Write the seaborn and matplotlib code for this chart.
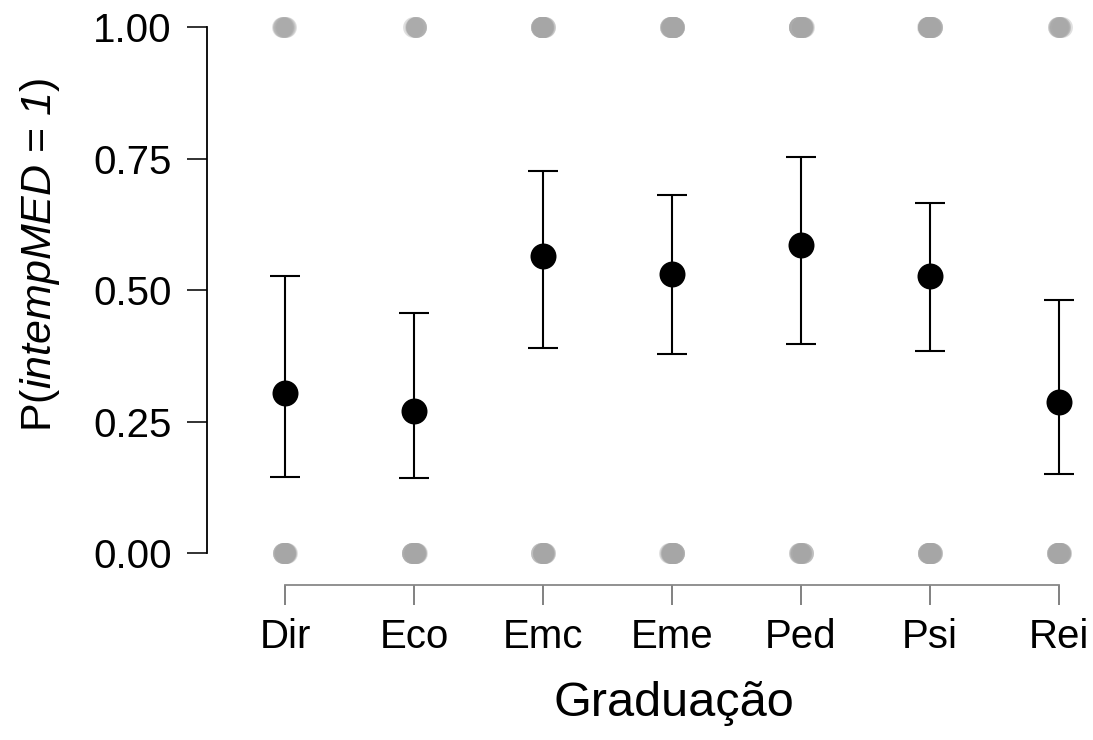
import numpy as np
import pandas as pd
import matplotlib
matplotlib.use("Agg")
import matplotlib.pyplot as plt
import seaborn as sns

# groups and estimated probabilities with 95% CI
cursos = ["Dir", "Eco", "Emc", "Eme", "Ped", "Psi", "Rei"]
prob = [0.304, 0.270, 0.565, 0.530, 0.586, 0.527, 0.287]
ci_low = [0.144, 0.143, 0.390, 0.378, 0.397, 0.384, 0.150]
ci_high = [0.527, 0.456, 0.726, 0.681, 0.753, 0.665, 0.481]

# raw outcomes (counts of 1 and 0 per group)
n_sim = [6, 6, 17, 19, 14, 20, 7]
n_nao = [14, 16, 13, 17, 10, 18, 17]

rows = []
for c, n1, n0 in zip(cursos, n_sim, n_nao):
    rows += [(c, 1)] * n1 + [(c, 0)] * n0
df = pd.DataFrame(rows, columns=["Graduacao", "intempMED"])

sns.set_style("white")
plt.rcParams["font.family"] = ["Liberation Sans", "DejaVu Sans"]
plt.rcParams["mathtext.fontset"] = "custom"
plt.rcParams["mathtext.sf"] = "Liberation Sans:italic"
plt.rcParams["mathtext.rm"] = "Liberation Sans"
plt.rcParams["text.color"] = "black"
plt.rcParams["axes.labelcolor"] = "black"
plt.rcParams["xtick.color"] = "black"
plt.rcParams["ytick.color"] = "black"

fig = plt.figure(figsize=(10.93, 7.4), dpi=100)
ax = fig.add_axes([207 / 1093, 155 / 740, 877.8 / 1093, 568.5 / 740])

np.random.seed(1)
sns.stripplot(data=df, x="Graduacao", y="intempMED", order=cursos,
              color="#a6a6a6", alpha=0.35, size=15, jitter=0.02,
              linewidth=0, ax=ax)

pos = np.arange(len(cursos))
yerr = [np.array(prob) - np.array(ci_low), np.array(ci_high) - np.array(prob)]
ax.errorbar(pos, prob, yerr=yerr, fmt="none", ecolor="black",
            elinewidth=1.5, capsize=11, capthick=1.5, zorder=3)
sns.scatterplot(x=pos, y=prob, color="black", s=300, edgecolor="black",
                zorder=4, ax=ax)

ax.set_xlim(-0.605, 6.2)
ax.set_ylim(-0.0608, 1.02)
ax.set_yticks([0, 0.25, 0.5, 0.75, 1.0])
ax.set_yticklabels(["0.00", "0.25", "0.50", "0.75", "1.00"])
ax.set_xticks(pos)
ax.set_xticklabels(cursos)

for s in ["top", "right"]:
    ax.spines[s].set_visible(False)
ax.spines["left"].set_bounds(0, 1)
ax.spines["bottom"].set_bounds(0, 6)
ax.spines["left"].set_color("black")
ax.spines["bottom"].set_color("#888888")
ax.spines["left"].set_linewidth(1.3)
ax.spines["bottom"].set_linewidth(1.3)
ax.tick_params(axis="both", direction="out", length=14.5, width=1.3,
               labelsize=29, left=True, bottom=True)
ax.tick_params(axis="y", pad=11, color="#222222")
ax.tick_params(axis="x", pad=9, color="#777777")

ax.set_xlabel("Graduação", fontsize=35)
ax.set_ylabel(r"P($\mathsf{intempMED}$ = $\mathsf{1}$)", fontsize=31)
ax.xaxis.set_label_coords((674 - 207) / 877.8, -0.168)
ax.yaxis.set_label_coords(-0.165, 0.58)

fig.savefig("out.png", dpi=100)
